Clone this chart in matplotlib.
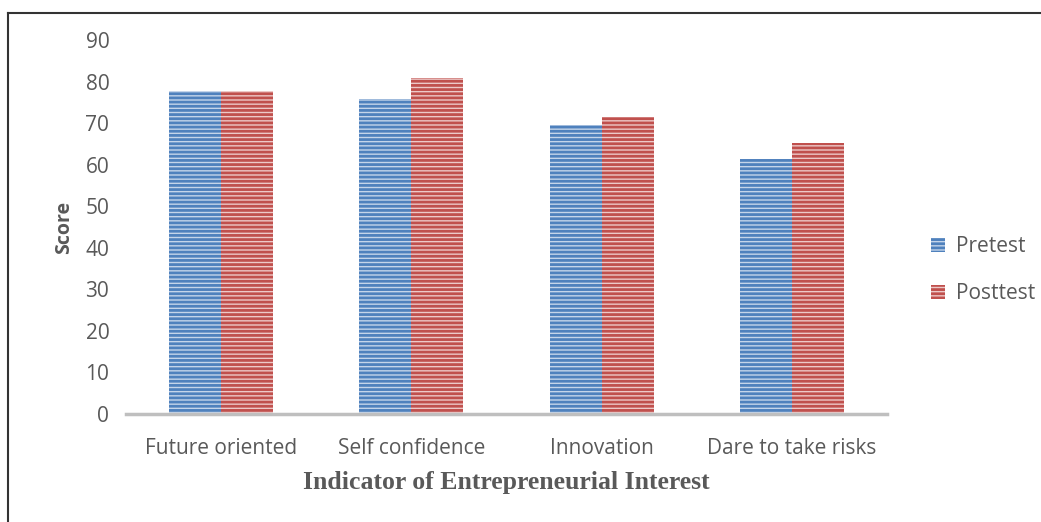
import numpy as np
import matplotlib
matplotlib.use('Agg')
import matplotlib.pyplot as plt
from matplotlib.lines import Line2D

categories = ['Future oriented', 'Self confidence', 'Innovation', 'Dare to take risks']
pretest = [77.7, 75.8, 69.5, 61.4]
posttest = [77.7, 80.8, 71.4, 65.3]
series_names = ['Pretest', 'Posttest']
yticks = [0, 10, 20, 30, 40, 50, 60, 70, 80, 90]

txt = '#595959'
plt.rcParams['hatch.linewidth'] = 2.0

fig = plt.figure(figsize=(10.41, 5.22), dpi=100)
ax = fig.add_axes([0.121, 0.207, 0.731, 0.716])

x = np.arange(len(categories))
w = 0.273
b1 = ax.bar(x - w / 2, pretest, w, color='#C5D5EA', edgecolor='#4F81BD',
            hatch='----', linewidth=0, label=series_names[0])
b2 = ax.bar(x + w / 2, posttest, w, color='#EDC9C8', edgecolor='#C0504D',
            hatch='----', linewidth=0, label=series_names[1])

ax.set_xlim(-0.5, len(categories) - 0.5)
ax.set_ylim(0, 90)
ax.set_yticks(yticks)
ax.set_xticks(x)
ax.set_xticklabels(categories)
for s in ['top', 'right', 'left']:
    ax.spines[s].set_visible(False)
ax.spines['bottom'].set_color('#BFBFBF')
ax.spines['bottom'].set_linewidth(2.5)
ax.tick_params(length=0, colors=txt, labelsize=15, pad=17)
ax.tick_params(axis='y', pad=12)
for lab in ax.get_xticklabels() + ax.get_yticklabels():
    lab.set_family('Open Sans')

ax.set_ylabel('Score', fontsize=14, fontweight='bold', color=txt,
              family='Open Sans', labelpad=8)
ax.set_xlabel('Indicator of Entrepreneurial Interest', fontsize=18.5,
              fontweight='bold', color=txt, family='Liberation Serif', labelpad=9)

leg = fig.legend(handles=[b1, b2], loc='center left', bbox_to_anchor=(0.876, 0.482),
                 frameon=False, fontsize=15, handlelength=0.7, handleheight=0.7,
                 handletextpad=0.5, labelspacing=1.25)
for t in leg.get_texts():
    t.set_color(txt)
    t.set_family('Open Sans')

# frame of the figure box in the source document
fig.add_artist(Line2D([0.0077, 0.0077], [0.0, 0.976], color='#333333', lw=1.5,
                      transform=fig.transFigure))
fig.add_artist(Line2D([0.0077, 1.0], [0.976, 0.976], color='#333333', lw=1.5,
                      transform=fig.transFigure))
# bottom edge of the caption line above the chart, cut off by the crop
fig.text(30 / 1041, 1 + 7.5 / 522, 'Indicator and the experienced a significant change, as shown in Figure 3.',
         family='Liberation Serif', fontsize=22, va='baseline', ha='left', color='black')

fig.savefig('out.png', dpi=100)
